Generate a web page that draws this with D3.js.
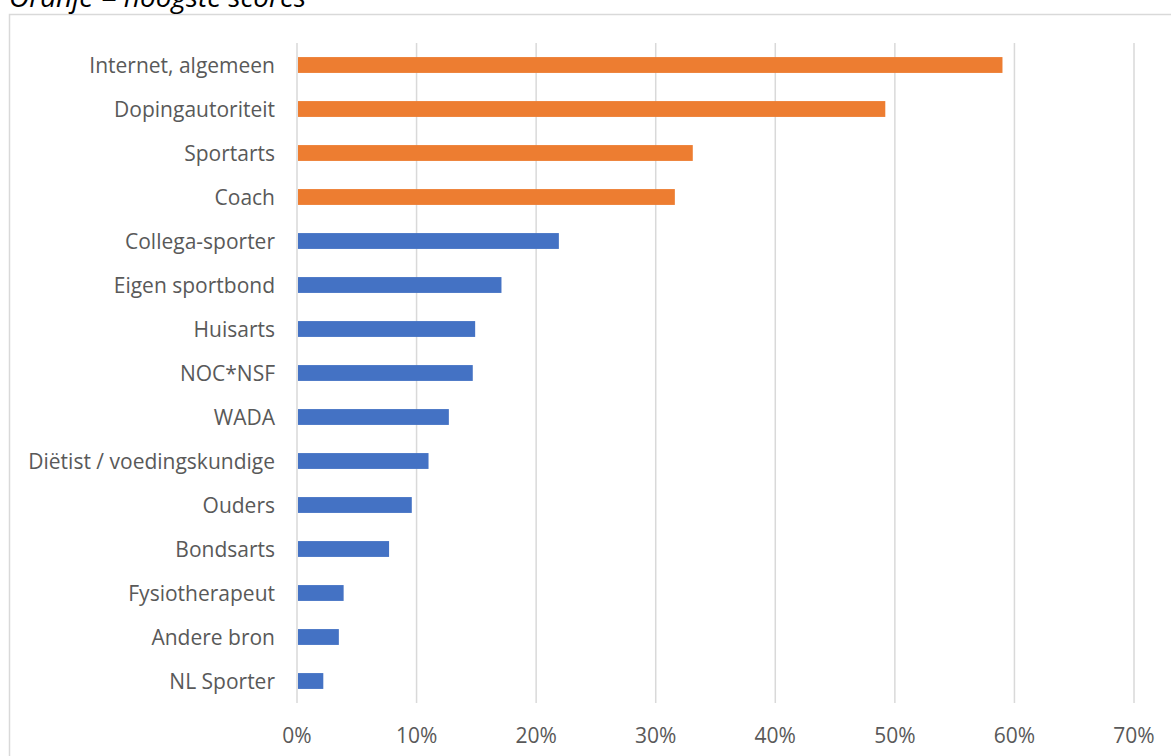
<!DOCTYPE html>
<html><head><meta charset="utf-8">
<script src="https://cdn.jsdelivr.net/npm/d3@7"></script>
<style>
html,body{margin:0;padding:0;background:#fff;overflow:hidden}
svg{display:block}
</style></head><body>
<svg id="chart" width="1171" height="756"></svg>
<script>
const categories = ["Internet, algemeen","Dopingautoriteit","Sportarts","Coach","Collega-sporter","Eigen sportbond","Huisarts","NOC*NSF","WADA","Diëtist / voedingskundige","Ouders","Bondsarts","Fysiotherapeut","Andere bron","NL Sporter"];
const values = [0.590,0.492,0.331,0.316,0.219,0.171,0.149,0.147,0.127,0.110,0.096,0.077,0.039,0.035,0.022];
const highlighted = [true,true,true,true,false,false,false,false,false,false,false,false,false,false,false];
const tickValues = [0,0.1,0.2,0.3,0.4,0.5,0.6,0.7];
const title = "Oranje = hoogste scores";

const svg = d3.select("#chart");
const font = "'Open Sans', 'Segoe UI', sans-serif";

svg.append("rect").attr("x",9.5).attr("y",14.5).attr("width",1200).attr("height",800)
  .attr("fill","#fff").attr("stroke","#d9d9d9").attr("stroke-width",1.5);

svg.append("text").attr("x",9).attr("y",7).text(title)
  .attr("font-family",font).attr("font-style","italic").attr("font-size",28).attr("fill","#000");

const x = d3.scaleLinear().domain([0,0.7]).range([297,1134]);
const y = d3.scaleBand().domain(categories).range([43,703]).paddingInner(0.64).paddingOuter(0.32);

svg.append("g").selectAll("line").data(tickValues).join("line")
  .attr("x1",d=>x(d)).attr("x2",d=>x(d)).attr("y1",43).attr("y2",703)
  .attr("stroke","#d9d9d9").attr("stroke-width",1.5);

svg.append("g").selectAll("rect").data(categories).join("rect")
  .attr("x",x(0)+1).attr("y",d=>y(d)).attr("height",y.bandwidth())
  .attr("width",(d,i)=>x(values[i])-x(0)-1)
  .attr("fill",(d,i)=>highlighted[i]?"#ED7D31":"#4472C4");

svg.append("g").selectAll("text").data(categories).join("text")
  .attr("x",275).attr("y",d=>y(d)+y.bandwidth()/2).attr("dy","0.37em")
  .attr("text-anchor","end").attr("font-family",font).attr("font-size",21).attr("fill","#595959")
  .text(d=>d);

svg.append("g").selectAll("text").data(tickValues).join("text")
  .attr("x",d=>x(d)).attr("y",736).attr("dy","0.35em").attr("text-anchor","middle")
  .attr("font-family",font).attr("font-size",21).attr("fill","#595959")
  .text(d=>d3.format(".0%")(d));
</script>
</body></html>
